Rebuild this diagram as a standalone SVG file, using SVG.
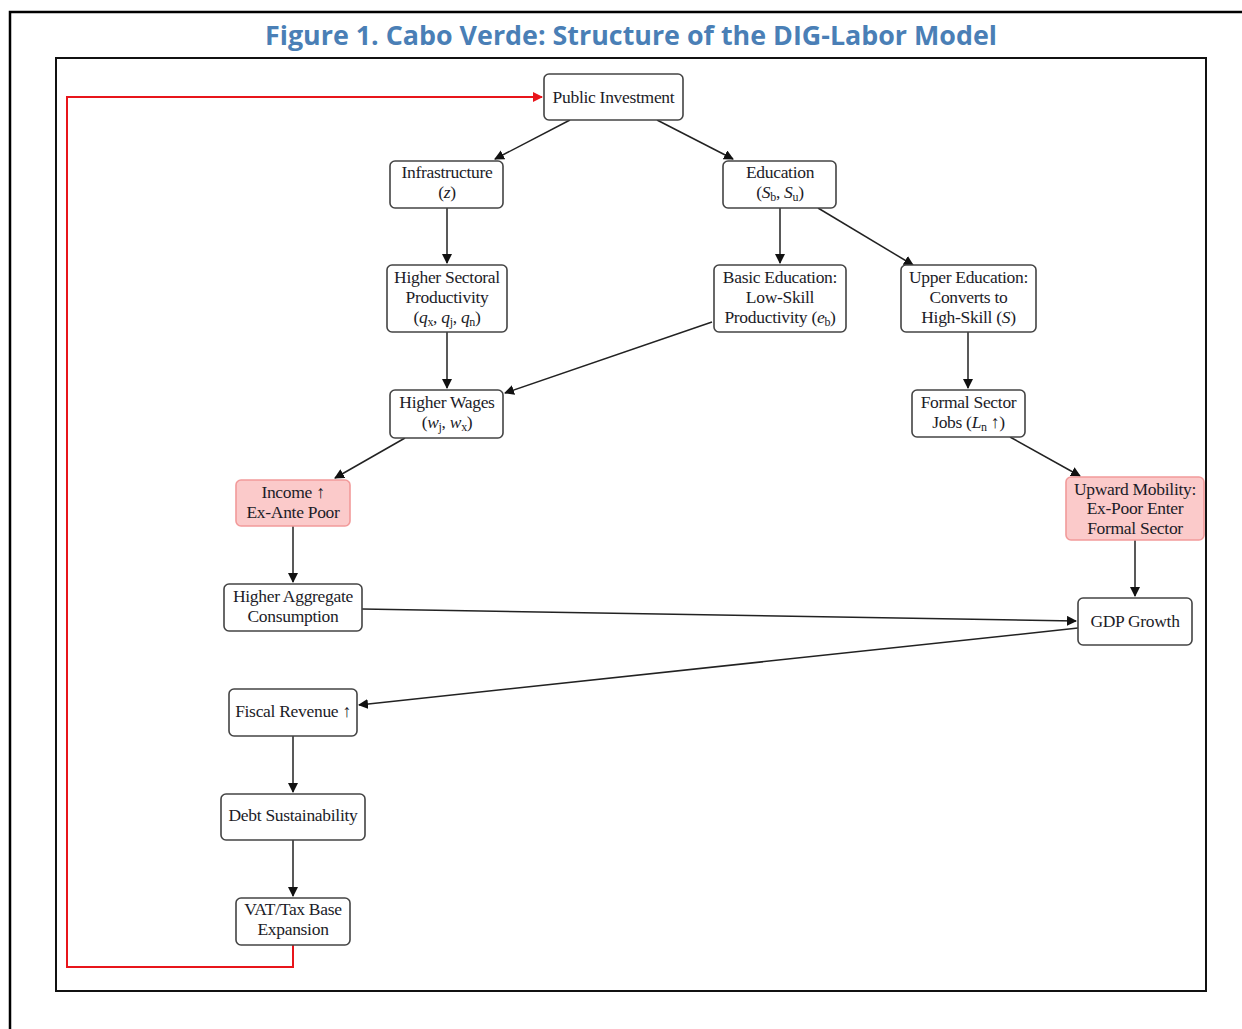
<svg xmlns="http://www.w3.org/2000/svg" width="1242" height="1029" viewBox="0 0 1242 1029">
<defs>
<marker id="ah" viewBox="0 0 10 10" refX="9" refY="5" markerWidth="10" markerHeight="10" markerUnits="userSpaceOnUse" orient="auto">
<path d="M0,0 L10,5 L0,10 z" fill="#111"/>
</marker>
<marker id="ahr" viewBox="0 0 10 10" refX="9" refY="5" markerWidth="10" markerHeight="10" markerUnits="userSpaceOnUse" orient="auto">
<path d="M0,0 L10,5 L0,10 z" fill="#e8151b"/>
</marker>
</defs>
<style>
.box{fill:#fff;stroke:#444;stroke-width:1.6}
.pink{fill:#fbcaca;stroke:#f29a9a;stroke-width:1.6}
.t{font-family:"Liberation Serif","DejaVu Serif",serif;font-size:17.5px;fill:#1c1c28;text-anchor:middle;letter-spacing:-0.3px}
.e{stroke:#222;stroke-width:1.5;fill:none;marker-end:url(#ah)}
.i{font-style:italic}
.s{font-size:12px}
</style>
<rect x="0" y="0" width="1242" height="1029" fill="#fff"/>
<path d="M10,1029 V12 H1242" fill="none" stroke="#000" stroke-width="2.5"/>
<text x="631" y="45" font-family="Open Sans, Liberation Sans, sans-serif" font-weight="bold" font-size="27" fill="#4a7fb6" text-anchor="middle" textLength="732" lengthAdjust="spacingAndGlyphs">Figure 1. Cabo Verde: Structure of the DIG-Labor Model</text>
<rect x="56" y="58" width="1150" height="933" fill="none" stroke="#111" stroke-width="2"/>

<g id="connectors">
<path class="e" d="M570,120 L495,159"/>
<path class="e" d="M657,120 L733,159"/>
<path class="e" d="M447,208 V263"/>
<path class="e" d="M780,208 V263"/>
<path class="e" d="M818,208 L913,265"/>
<path class="e" d="M447,332 V388"/>
<path class="e" d="M712,322 L505,393"/>
<path class="e" d="M968,332 V388"/>
<path class="e" d="M405,438 L335,478"/>
<path class="e" d="M1010,437 L1080,476"/>
<path class="e" d="M293,526 V582"/>
<path class="e" d="M1135,540 V596"/>
<path class="e" d="M362,609 L1076,621"/>
<path class="e" d="M1078,628 L359,705"/>
<path class="e" d="M293,736 V792"/>
<path class="e" d="M293,840 V896"/>
<path d="M293,945 V967 H67 V97 H542" fill="none" stroke="#e8151b" stroke-width="2" marker-end="url(#ahr)"/>
</g>

<g id="public-investment"><rect class="box" x="544" y="74" width="139" height="46" rx="5"/><text class="t" x="613.5" y="103">Public Investment</text></g>
<g id="infrastructure"><rect class="box" x="390" y="161" width="113" height="47" rx="5"/><text class="t" x="447" y="178">Infrastructure</text><text class="t" x="447" y="198">(<tspan class="i">z</tspan>)</text></g>
<g id="education"><rect class="box" x="723" y="161" width="113" height="47" rx="5"/><text class="t" x="780" y="178">Education</text><text class="t" x="780" y="198">(<tspan class="i">S</tspan><tspan class="s" dy="3">b</tspan><tspan dy="-3">, </tspan><tspan class="i">S</tspan><tspan class="s" dy="3">u</tspan><tspan dy="-3">)</tspan></text></g>
<g id="higher-sectoral-productivity"><rect class="box" x="387" y="265" width="120" height="67" rx="5"/><text class="t" x="447" y="283">Higher Sectoral</text><text class="t" x="447" y="303">Productivity</text><text class="t" x="447" y="323">(<tspan class="i">q</tspan><tspan class="s" dy="3">x</tspan><tspan dy="-3">, </tspan><tspan class="i">q</tspan><tspan class="s" dy="3">j</tspan><tspan dy="-3">, </tspan><tspan class="i">q</tspan><tspan class="s" dy="3">n</tspan><tspan dy="-3">)</tspan></text></g>
<g id="basic-education"><rect class="box" x="714" y="265" width="132" height="67" rx="5"/><text class="t" x="780" y="283">Basic Education:</text><text class="t" x="780" y="303">Low-Skill</text><text class="t" x="780" y="323">Productivity (<tspan class="i">e</tspan><tspan class="s" dy="3">b</tspan><tspan dy="-3">)</tspan></text></g>
<g id="upper-education"><rect class="box" x="901" y="265" width="135" height="67" rx="5"/><text class="t" x="968.5" y="283">Upper Education:</text><text class="t" x="968.5" y="303">Converts to</text><text class="t" x="968.5" y="323">High-Skill (<tspan class="i">S</tspan>)</text></g>
<g id="higher-wages"><rect class="box" x="390" y="390" width="113" height="48" rx="5"/><text class="t" x="447" y="408">Higher Wages</text><text class="t" x="447" y="428">(<tspan class="i">w</tspan><tspan class="s" dy="3">j</tspan><tspan dy="-3">, </tspan><tspan class="i">w</tspan><tspan class="s" dy="3">x</tspan><tspan dy="-3">)</tspan></text></g>
<g id="formal-sector-jobs"><rect class="box" x="912" y="390" width="113" height="47" rx="5"/><text class="t" x="968.5" y="408">Formal Sector</text><text class="t" x="968.5" y="428">Jobs (<tspan class="i">L</tspan><tspan class="s" dy="3">n</tspan><tspan dy="-3"> ↑)</tspan></text></g>
<g id="income-ex-ante-poor"><rect class="pink" x="236" y="480" width="114" height="46" rx="5"/><text class="t" x="293" y="498">Income ↑</text><text class="t" x="293" y="518">Ex-Ante Poor</text></g>
<g id="upward-mobility"><rect class="pink" x="1066" y="477" width="138" height="63" rx="5"/><text class="t" x="1135" y="495">Upward Mobility:</text><text class="t" x="1135" y="514">Ex-Poor Enter</text><text class="t" x="1135" y="534">Formal Sector</text></g>
<g id="higher-aggregate-consumption"><rect class="box" x="224" y="584" width="138" height="47" rx="5"/><text class="t" x="293" y="602">Higher Aggregate</text><text class="t" x="293" y="622">Consumption</text></g>
<g id="gdp-growth"><rect class="box" x="1078" y="598" width="114" height="47" rx="5"/><text class="t" x="1135" y="627">GDP Growth</text></g>
<g id="fiscal-revenue"><rect class="box" x="229" y="689" width="128" height="47" rx="5"/><text class="t" x="293" y="717">Fiscal Revenue ↑</text></g>
<g id="debt-sustainability"><rect class="box" x="221" y="794" width="144" height="46" rx="5"/><text class="t" x="293" y="821">Debt Sustainability</text></g>
<g id="vat-tax-base"><rect class="box" x="236" y="898" width="114" height="47" rx="5"/><text class="t" x="293" y="915">VAT/Tax Base</text><text class="t" x="293" y="935">Expansion</text></g>
</svg>
